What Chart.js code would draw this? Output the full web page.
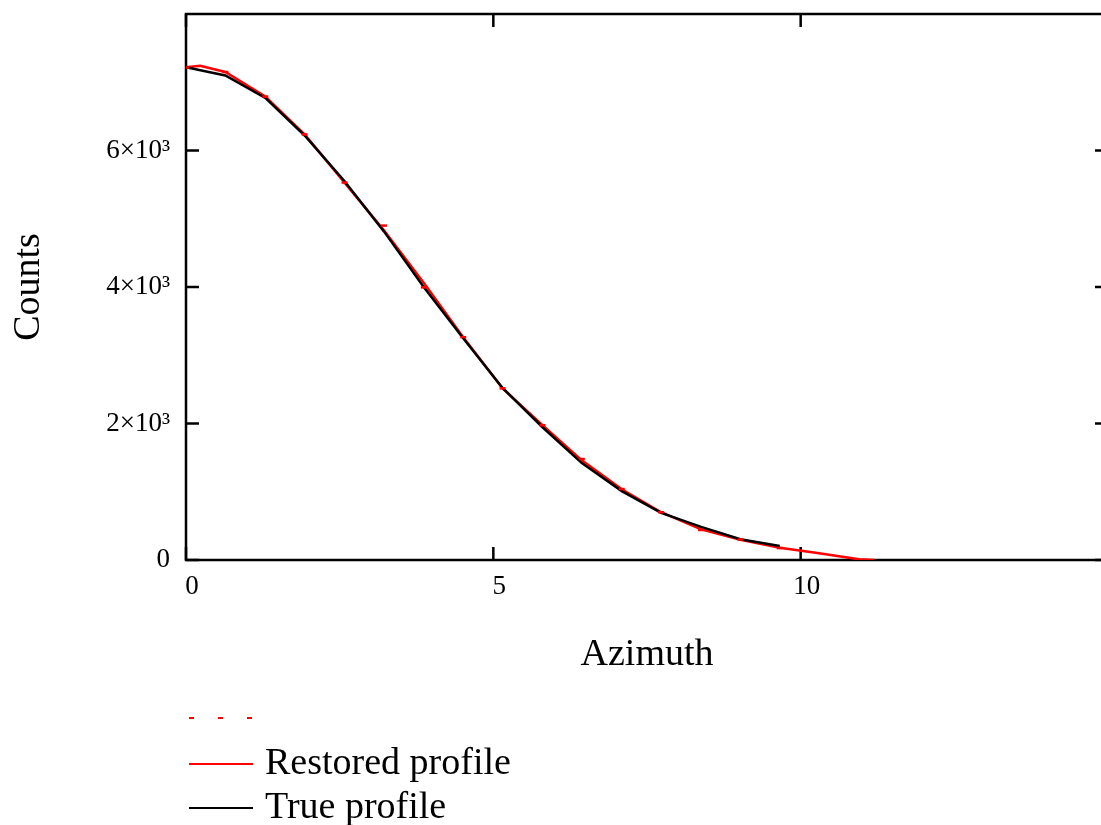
<!DOCTYPE html>
<html lang="en">
<head>
    <meta charset="UTF-8">
    <title>Azimuth profile</title>
    <script src="https://cdn.jsdelivr.net/npm/chart.js@4/dist/chart.umd.min.js"></script>
    <style>
        body { margin: 0; background: #fff; overflow: hidden; }
        #wrap { width: 1120px; height: 825px; }
    </style>
</head>
<body>
    <div id="wrap"><canvas id="profileChart" width="1120" height="825"></canvas></div>

    <script>
        // sampled azimuths and counts
        const trueX = [0, 0.64, 1.29, 1.93, 2.58, 3.22, 3.87, 4.51, 5.15, 5.80, 6.44, 7.09, 7.73, 8.38, 9.02, 9.66];
        const trueY = [7220, 7100, 6770, 6220, 5550, 4815, 3995, 3250, 2520, 1945, 1420, 1010, 690, 485, 305, 205];

        const markX = [0, 0.64, 1.29, 1.93, 2.58, 3.22, 3.87, 4.51, 5.15, 5.80, 6.44, 7.09, 7.73, 8.38, 9.02, 9.66];
        const markY = [7215, 7150, 6790, 6235, 5530, 4900, 3995, 3265, 2515, 1975, 1480, 1040, 700, 440, 300, 175];

        const restoredX = [0, 0.23, 0.64, 1.29, 1.93, 2.58, 3.22, 3.87, 4.51, 5.15, 5.80, 6.44, 7.09, 7.73, 8.38, 9.02, 9.66, 10.30, 10.95, 11.20];
        const restoredY = [7220, 7240, 7150, 6790, 6235, 5530, 4830, 4060, 3265, 2515, 1975, 1460, 1035, 700, 450, 295, 180, 100, 10, 0];

        const xTickValues = [0, 5, 10];
        const xTickLabels = ['0', '5', '10'];
        const yTickValues = [0, 2000, 4000, 6000];
        const yTickLabels = ['0', '2×10³', '4×10³', '6×10³'];

        const serif = '"Liberation Serif", "DejaVu Serif", serif';

        const toPoints = (xs, ys) => xs.map((x, i) => ({ x: x, y: ys[i] }));

        // frame box plus inward tick marks on all four sides
        const framePlugin = {
            id: 'frame',
            beforeDatasetsDraw(chart) {
                const { ctx, chartArea: a, scales } = chart;
                ctx.save();
                ctx.strokeStyle = '#000';
                ctx.lineWidth = 2.5;
                ctx.strokeRect(a.left, a.top, a.right - a.left, a.bottom - a.top);
                ctx.beginPath();
                xTickValues.forEach(v => {
                    const px = scales.x.getPixelForValue(v);
                    ctx.moveTo(px, a.bottom); ctx.lineTo(px, a.bottom - 13);
                    ctx.moveTo(px, a.top); ctx.lineTo(px, a.top + 13);
                });
                yTickValues.forEach(v => {
                    const py = scales.y.getPixelForValue(v);
                    ctx.moveTo(a.left, py); ctx.lineTo(a.left + 13, py);
                    ctx.moveTo(a.right, py); ctx.lineTo(a.right - 13, py);
                });
                ctx.stroke();
                ctx.restore();
            }
        };

        // stacked legend under the axis title
        const legendPlugin = {
            id: 'stackLegend',
            afterDraw(chart) {
                const ctx = chart.ctx;
                const rows = [718, 764, 808];
                ctx.save();
                chart.data.datasets.forEach((ds, i) => {
                    const y = rows[i];
                    ctx.beginPath();
                    ctx.strokeStyle = ds.borderColor;
                    ctx.lineWidth = 2;
                    ctx.setLineDash(ds.showLine === false ? [5, 24] : []);
                    ctx.moveTo(189, y);
                    ctx.lineTo(253, y);
                    ctx.stroke();
                    if (ds.label) {
                        ctx.setLineDash([]);
                        ctx.fillStyle = '#000';
                        ctx.font = '38px ' + serif;
                        ctx.textBaseline = 'alphabetic';
                        ctx.fillText(ds.label, 265, y + 10);
                    }
                });
                ctx.restore();
            }
        };

        new Chart(document.getElementById('profileChart'), {
            type: 'line',
            data: {
                datasets: [{
                    label: '',
                    data: toPoints(markX, markY),
                    showLine: false,
                    borderColor: '#ff0000',
                    backgroundColor: '#ff0000',
                    pointStyle: 'line',
                    pointRadius: 3,
                    pointBorderWidth: 2.5,
                    order: 0
                }, {
                    label: 'Restored profile',
                    data: toPoints(restoredX, restoredY),
                    borderColor: '#ff0000',
                    borderWidth: 2.5,
                    pointRadius: 0,
                    tension: 0,
                    fill: false,
                    order: 2
                }, {
                    label: 'True profile',
                    data: toPoints(trueX, trueY),
                    borderColor: '#000000',
                    borderWidth: 2.5,
                    pointRadius: 0,
                    tension: 0,
                    fill: false,
                    order: 1
                }]
            },
            options: {
                responsive: false,
                animation: false,
                devicePixelRatio: 1,
                events: [],
                layout: { padding: { top: 14, right: 12, left: 0, bottom: 0 } },
                plugins: {
                    legend: { display: false },
                    tooltip: { enabled: false }
                },
                scales: {
                    x: {
                        type: 'linear',
                        min: 0,
                        max: 15,
                        grid: { display: false },
                        border: { display: false },
                        afterBuildTicks: s => { s.ticks = xTickValues.map(v => ({ value: v })); },
                        afterFit: s => { s.height = 265; s.paddingLeft = 0; s.paddingRight = 0; },
                        ticks: {
                            color: '#000',
                            padding: 3,
                            labelOffset: 6,
                            maxRotation: 0,
                            autoSkip: false,
                            font: { family: serif, size: 27 },
                            callback: (v, i) => xTickLabels[i]
                        },
                        title: {
                            display: true,
                            text: 'Azimuth',
                            color: '#000',
                            font: { family: serif, size: 38 },
                            padding: { top: 0, bottom: 147 }
                        }
                    },
                    y: {
                        min: 0,
                        max: 8000,
                        grid: { display: false },
                        border: { display: false },
                        afterBuildTicks: s => { s.ticks = yTickValues.map(v => ({ value: v })); },
                        afterFit: s => { s.width = 186; s.paddingTop = 0; s.paddingBottom = 0; },
                        ticks: {
                            color: '#000',
                            padding: 8,
                            autoSkip: false,
                            font: { family: serif, size: 27 },
                            callback: (v, i) => yTickLabels[i]
                        },
                        title: {
                            display: true,
                            text: 'Counts',
                            color: '#000',
                            font: { family: serif, size: 38 },
                            padding: { top: 6, bottom: 0 }
                        }
                    }
                }
            },
            plugins: [framePlugin, legendPlugin]
        });
    </script>
</body>
</html>
